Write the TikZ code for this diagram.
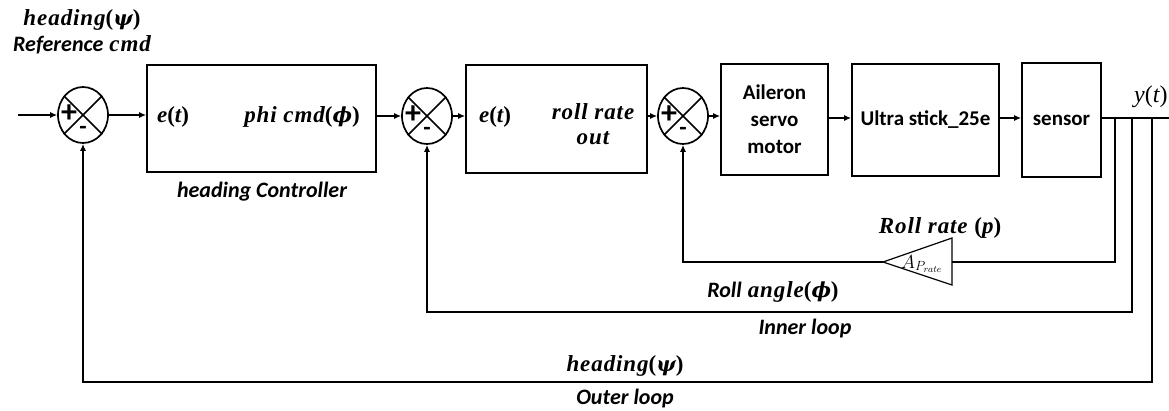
\documentclass[tikz,border=0pt]{standalone}
\usepackage{fix-cm}
\usepackage{amsmath}
\usepackage{fontspec}
\setsansfont{Carlito}
\newfontfamily\mfont{Liberation Serif}[LetterSpace=4]
\newfontfamily\gfont{DejaVu Serif}[Scale=0.9]
\newcommand{\mygpsi}{{\gfont\bfseries\itshape ψ}}
\newcommand{\mygphi}{{\gfont\bfseries\itshape ϕ}}
\newcommand{\mylp}{{\upshape(}}
\newcommand{\myrp}{{\upshape)}}
\usetikzlibrary{arrows.meta,shapes.geometric,calc}
\begin{document}
\begin{tikzpicture}[x=1pt,y=-1pt,
  blk/.style={draw, line width=1.7pt, inner sep=0pt, font=\sffamily\bfseries\fontsize{21}{27}\selectfont, align=center},
  sumj/.style={draw, ellipse, minimum width=50pt, minimum height=56pt, line width=1.7pt, inner sep=0pt},
  conn/.style={line width=1.6pt},
  arr/.style={conn, -{Latex[length=7pt,width=6pt]}},
  slbl/.style={font=\sffamily\bfseries\itshape\fontsize{22}{24}\selectfont, inner sep=0pt},
  mlbl/.style={font=\mfont\bfseries\itshape\fontsize{23}{26}\selectfont, inner sep=0pt}
]
\useasboundingbox (0,0) rectangle (1169,410);
\clip (0,0) rectangle (1169,410);

% summing junctions
\foreach \n/\x/\y in {s1/83/115, s2/427/116, s3/683/116}{
  \node[sumj] (\n) at (\x,\y) {};
  \draw[line width=1.6pt] (\n.45) -- (\n.225) (\n.135) -- (\n.-45);
  \node[font=\sffamily\bfseries\fontsize{32}{32}\selectfont, inner sep=0pt] at ($(\n)+(-14,-1)$) {+};
  \node[font=\sffamily\bfseries\fontsize{24}{24}\selectfont, inner sep=0pt] at ($(\n)+(0,15)$) {-};
}

% blocks
\node[blk, minimum width=229pt, minimum height=107pt] (b1) at (261.5,118.5) {};
\node[blk, minimum width=181pt, minimum height=108pt] (b2) at (556.5,119) {};
\node[blk, minimum width=107pt, minimum height=111pt] (b3) at (774.5,119.5) {Aileron\\servo\\motor};
\node[blk, minimum width=147pt, minimum height=112pt] (b4) at (925.5,120) {};
\node[blk, minimum width=79pt, minimum height=114pt] (b5) at (1061.5,120) {};
\node[font=\sffamily\bfseries\fontsize{21}{24}\selectfont, inner sep=0pt] (t4) at (925.5,120) {Ultra stick\_25e};
\node[font=\sffamily\bfseries\fontsize{21}{24}\selectfont, inner sep=0pt] (t5) at (1061.5,120) {sensor};

% block texts
\node[mlbl] (e1) at (173,117) {e\mylp t\myrp};
\node[mlbl] (phi) at (302,117) {phi cmd\mylp\mygphi\myrp};
\node[mlbl] (e2) at (495,117) {e\mylp t\myrp};
\node[mlbl, align=center, font=\mfont\bfseries\itshape\fontsize{23}{25}\selectfont] (rro) at (593,124) {roll rate\\out};

% forward path
\coordinate (in) at (18,115);
\draw[arr] (in) -- (s1.west);
\draw[arr] (s1.east) -- (b1.west |- s1.east);
\draw[arr] (b1.east |- s2.west) -- (s2.west);
\draw[arr] (s2.east) -- (b2.west |- s2.east);
\draw[arr] (b2.east |- s3.west) -- (s3.west);
\draw[arr] (s3.east) -- (b3.west |- s3.east);
\coordinate (fy) at (0,118);
\draw[arr] (b3.east |- fy) -- (b4.west |- fy);
\draw[arr] (b4.east |- fy) -- (b5.west |- fy);
\coordinate (out) at (1169,118);
\draw[conn] (b5.east |- out) -- (out);
\node[font=\mfont\itshape\fontsize{24}{26}\selectfont, anchor=west, inner sep=0pt] (yt) at (1134,97) {y\mylp t\myrp};

% taps
\coordinate (t1) at (1115,118);
\coordinate (t2) at (1132,118);
\coordinate (t3) at (1152,118);

% roll rate loop with gain triangle
\coordinate (tA) at (952,238);
\coordinate (tB) at (952,285);
\coordinate (tip) at (883,262);
\coordinate (base) at (952,262);
\draw[line width=1.2pt, line join=miter] (tA) -- (tB) -- (tip) -- cycle;
\node[font=\fontsize{19}{22}\selectfont, inner sep=0pt, anchor=west] (gain) at (901,264) {$A_{P_{rate}}$};
\coordinate (rr) at (1115,262);
\draw[conn] (t1) -- (rr) -- (base);
\draw[arr] (tip) -- (s3.south |- tip) -- (s3.south);
\node[mlbl] (lrr) at (940,228) {Roll rate \mylp p\myrp};

% roll angle loop
\coordinate (ang) at (1132,312);
\draw[arr] (t2) -- (ang) -| (s2.south);
\node[inner sep=0pt] (lra) at (773,292) {{\sffamily\bfseries\itshape\fontsize{22}{24}\selectfont Roll}\hspace{6pt}{\mfont\bfseries\itshape\fontsize{23}{26}\selectfont angle\mylp\mygphi\myrp}};
\node[slbl] (linner) at (805,329) {Inner loop};

% heading loop
\coordinate (hd) at (1152,382);
\draw[arr] (t3) -- (hd) -| (s1.south);
\node[mlbl] (lhd) at (625,366) {heading\mylp\mygpsi\myrp};
\node[slbl] (louter) at (625,399) {Outer loop};

% top labels
\node[mlbl] (lref1) at (82,20) {heading\mylp\mygpsi\myrp};
\node[inner sep=0pt] (lref2) at (82,45) {{\sffamily\bfseries\itshape\fontsize{22}{24}\selectfont Reference}\hspace{6pt}{\mfont\bfseries\itshape\fontsize{23}{26}\selectfont cmd}};
\node[slbl] (lhc) at (262,192) {heading Controller};
\end{tikzpicture}
\end{document}
